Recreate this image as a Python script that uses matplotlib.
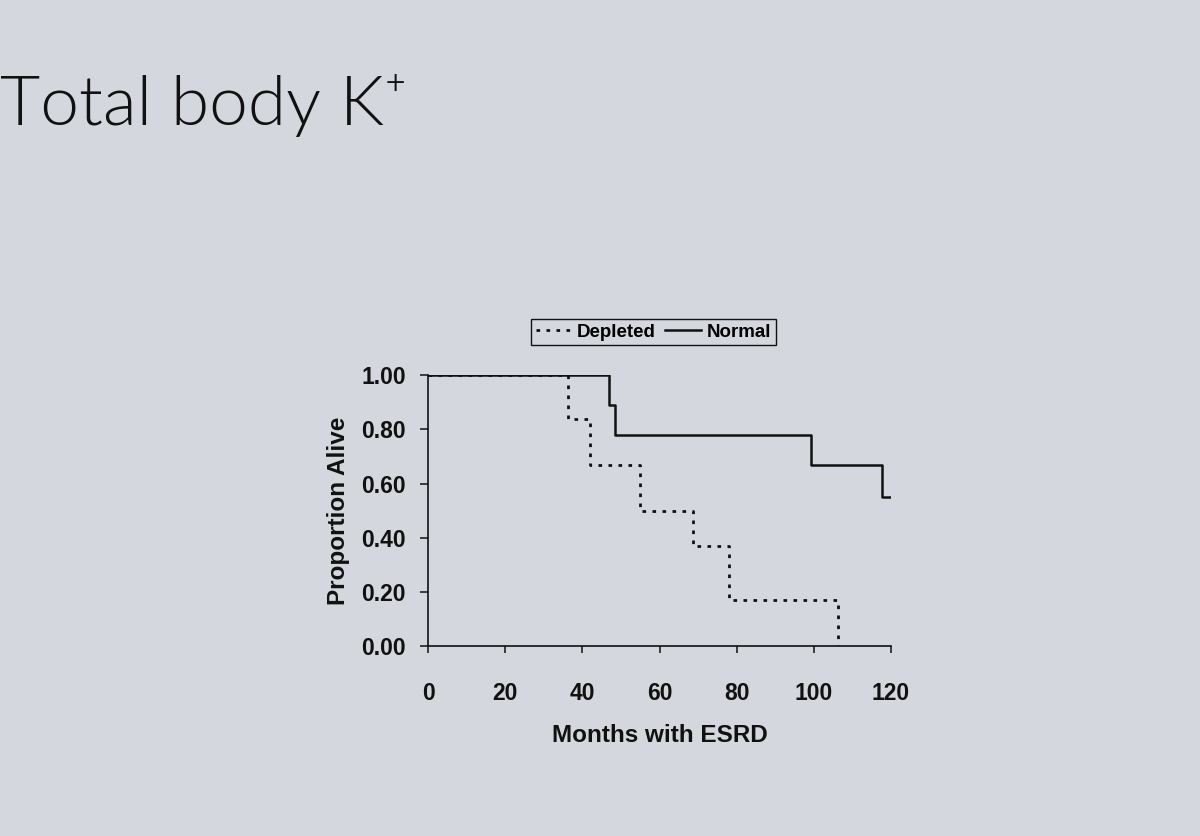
import matplotlib
matplotlib.use("Agg")
import matplotlib.pyplot as plt

# Data (Kaplan-Meier style step curves)
depleted_months = [0, 36.3, 41.9, 55.0, 68.8, 77.9, 106.3]
depleted_surv = [1.00, 0.84, 0.67, 0.50, 0.37, 0.17, 0.00]

normal_months = [0, 46.9, 48.4, 99.3, 117.7, 120]
normal_surv = [1.00, 0.89, 0.78, 0.67, 0.55, 0.55]

x_ticks = [0, 20, 40, 60, 80, 100, 120]
y_ticks = [0.00, 0.20, 0.40, 0.60, 0.80, 1.00]

title_text = "Total body K\u207a"
x_label = "Months with ESRD"
y_label = "Proportion Alive"
series_names = ["Depleted", "Normal"]

bg = "#d4d7de"
plt.rcParams['font.family'] = ['Liberation Sans', 'DejaVu Sans']

fig = plt.figure(figsize=(12, 8.36), dpi=100, facecolor=bg)
ax = fig.add_axes([0.3567, 0.2275, 0.3858, 0.3235])
ax.set_facecolor(bg)

ax.step(depleted_months, depleted_surv, where='post', color='#111111',
        linewidth=2.0, linestyle=(0, (1.3, 2.3)), dash_capstyle='butt',
        label=series_names[0])
ax.step(normal_months, normal_surv, where='post', color='#111111',
        linewidth=1.8, linestyle='-', label=series_names[1])

ax.set_xlim(0, 120)
ax.set_ylim(0, 1.0)
ax.set_xticks(x_ticks)
ax.set_yticks(y_ticks)
ax.set_yticklabels([f"{v:.2f}" for v in y_ticks])
for s in ['top', 'right']:
    ax.spines[s].set_visible(False)
for s in ['left', 'bottom']:
    ax.spines[s].set_linewidth(1.2)
    ax.spines[s].set_color('#111111')
ax.tick_params(axis='x', direction='out', length=5, width=1.1, pad=21,
               labelsize=16.5, colors='#111111')
ax.tick_params(axis='y', direction='out', length=6, width=1.1, pad=10,
               labelsize=16.5, colors='#111111')
for lab in ax.get_xticklabels() + ax.get_yticklabels():
    lab.set_fontweight('bold')

ax.set_xlabel(x_label, fontsize=17.5, fontweight='bold', labelpad=14, color='#111111')
ax.set_ylabel(y_label, fontsize=17.5, fontweight='bold', labelpad=8, color='#111111')

leg = ax.legend(loc='center', bbox_to_anchor=(0.487, 1.16), ncol=2,
                frameon=True, fancybox=False, edgecolor='#111111',
                facecolor=bg, framealpha=1.0, handlelength=1.9,
                handletextpad=0.3, columnspacing=0.5, borderpad=0.25,
                prop={'weight': 'bold', 'size': 13.5})
leg.get_frame().set_linewidth(1.0)

fig.text(0.0, 0.8505, title_text, fontsize=50, va='baseline', ha='left',
         color='#111111', family=['Lato', 'DejaVu Sans'], fontweight=300)

fig.savefig("out.png", dpi=100, facecolor=bg)
